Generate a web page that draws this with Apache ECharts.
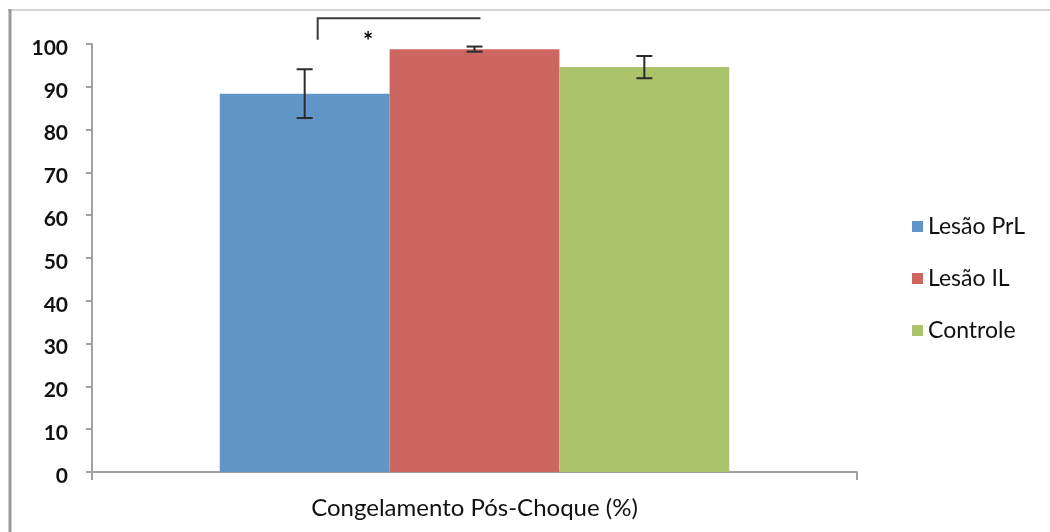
<!DOCTYPE html>
<html>
<head>
<meta charset="utf-8">
<title>Congelamento Pós-Choque</title>
<script src="https://cdn.jsdelivr.net/npm/echarts@6/dist/echarts.min.js"></script>
<style>
  html, body { margin: 0; padding: 0; background: #fff; }
  #chart { width: 1050px; height: 532px; }
</style>
</head>
<body>
<div id="chart"></div>
<script>
// Data
const categories = ['Congelamento Pós-Choque (%)'];
const groupNames = ['Lesão PrL', 'Lesão IL', 'Controle'];
const groupColors = ['#6194C7', '#CD6560', '#ABC36B'];
const means = [88.4, 98.8, 94.6];
const errors = [5.7, 0.6, 2.6];
const yTicks = { min: 0, max: 100, interval: 10 };
// significance bracket between group 0 and group 1
const bracket = { from: 0, to: 1, top: 106, legBottom: 101, mark: '*' };

const FONT = 'Lato, "Open Sans", sans-serif';
const BAR_GAP = '33.4%';

const chart = echarts.init(document.getElementById('chart'), null, { renderer: 'canvas' });

// horizontal offset of a group's bar centre inside the category band
function groupOffset(api, idx) {
  const band = api.size([1, 0])[0];
  const bw = band * (1 - parseFloat(BAR_GAP) / 100) / groupNames.length;
  return { off: (idx - (groupNames.length - 1) / 2) * bw, bw: bw };
}

const barSeries = groupNames.map((name, i) => ({
  name: name,
  type: 'bar',
  data: [means[i]],
  barGap: 0,
  barCategoryGap: BAR_GAP,
  itemStyle: { color: groupColors[i] },
  z: 2
}));

const errorData = means.map((m, i) => [0, m - errors[i], m + errors[i], i]);

const errorSeries = {
  type: 'custom',
  name: 'erro',
  data: errorData,
  z: 5,
  silent: true,
  encode: { x: 0, y: [1, 2] },
  renderItem: function (params, api) {
    const idx = api.value(3);
    const g = groupOffset(api, idx);
    const lo = api.coord([api.value(0), api.value(1)]);
    const hi = api.coord([api.value(0), api.value(2)]);
    const x = lo[0] + g.off;
    const cap = 8;
    const style = { stroke: '#2b2b2b', lineWidth: 2 };
    return {
      type: 'group',
      children: [
        { type: 'line', shape: { x1: x, y1: lo[1], x2: x, y2: hi[1] }, style: style },
        { type: 'line', shape: { x1: x - cap, y1: lo[1], x2: x + cap, y2: lo[1] }, style: style },
        { type: 'line', shape: { x1: x - cap, y1: hi[1], x2: x + cap, y2: hi[1] }, style: style }
      ]
    };
  }
};

const bracketSeries = {
  type: 'custom',
  name: 'sig',
  data: [[0, bracket.top, bracket.legBottom]],
  z: 6,
  silent: true,
  clip: false,
  renderItem: function (params, api) {
    const a = groupOffset(api, bracket.from);
    const b = groupOffset(api, bracket.to);
    const topPt = api.coord([api.value(0), api.value(1)]);
    const legPt = api.coord([api.value(0), api.value(2)]);
    const x1 = topPt[0] + a.off + 13;
    const x2 = topPt[0] + b.off + 6;
    const style = { stroke: '#3a3a3a', lineWidth: 2, fill: null };
    return {
      type: 'group',
      children: [
        { type: 'polyline', shape: { points: [[x1, legPt[1]], [x1, topPt[1]], [x2, topPt[1]]] }, style: style },
        {
          type: 'text',
          style: {
            text: bracket.mark, x: (x1 + x2) / 2 - 31, y: legPt[1] + 3,
            fill: '#000', font: 'bold 24px ' + FONT, align: 'center', verticalAlign: 'middle'
          }
        }
      ]
    };
  }
};

chart.setOption({
  animation: false,
  backgroundColor: '#fff',
  grid: { left: 92, right: 193, top: 44, bottom: 60, containLabel: false },
  legend: {
    data: groupNames,
    orient: 'vertical',
    left: 907,
    top: 210,
    itemWidth: 11,
    itemHeight: 11,
    itemGap: 29,
    icon: 'rect',
    selectedMode: false,
    textStyle: { fontFamily: FONT, fontSize: 23, color: '#111', padding: [4, 0, 0, 0] }
  },
  xAxis: {
    type: 'category',
    data: categories,
    axisLine: { lineStyle: { color: '#a0a0a0', width: 2 } },
    axisTick: { show: true, length: 8, alignWithLabel: false, lineStyle: { color: '#a0a0a0', width: 2 } },
    axisLabel: { fontFamily: FONT, fontSize: 24, color: '#111', margin: 24 },
    splitLine: { show: false }
  },
  yAxis: {
    type: 'value',
    min: yTicks.min,
    max: yTicks.max,
    interval: yTicks.interval,
    axisLine: { show: true, lineStyle: { color: '#a0a0a0', width: 2 } },
    axisTick: { show: true, length: 6, lineStyle: { color: '#a0a0a0', width: 2 } },
    axisLabel: { fontFamily: FONT, fontSize: 21, color: '#111', margin: 24, fontWeight: 'bold', verticalAlign: 'top', lineHeight: 8 },
    splitLine: { show: false }
  },
  graphic: [
    { type: 'line', shape: { x1: 8, y1: 10, x2: 1050, y2: 10 }, style: { stroke: '#d4d4d4', lineWidth: 2 }, silent: true },
    { type: 'line', shape: { x1: 10, y1: 9, x2: 10, y2: 532 }, style: { stroke: '#9a9a9a', lineWidth: 3 }, silent: true }
  ],
  series: barSeries.concat([errorSeries, bracketSeries])
});
</script>
</body>
</html>
